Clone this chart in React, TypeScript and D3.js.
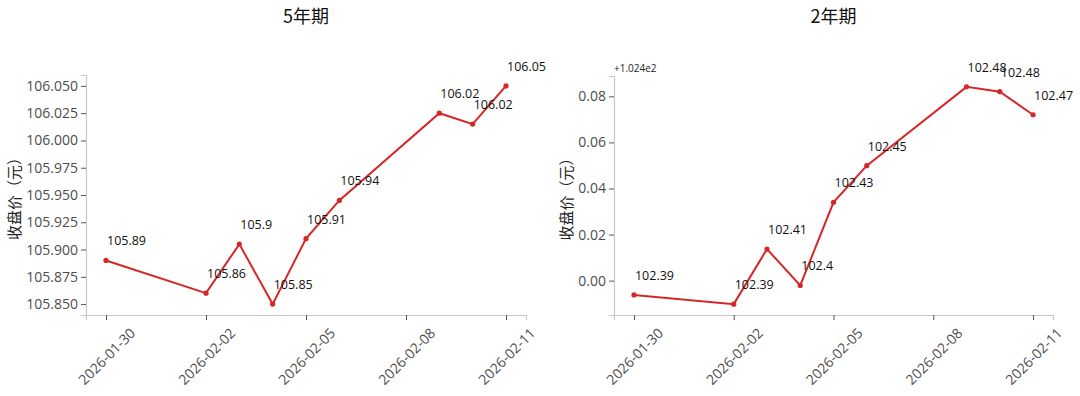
import React, { useEffect, useRef } from 'react';
import * as d3 from 'd3';

const dates = ['2026-01-30', '2026-02-02', '2026-02-03', '2026-02-04', '2026-02-05', '2026-02-06', '2026-02-09', '2026-02-10', '2026-02-11'];
const xTickDates = ['2026-01-30', '2026-02-02', '2026-02-05', '2026-02-08', '2026-02-11'];

const fiveYearValues = [105.89, 105.86, 105.905, 105.85, 105.91, 105.945, 106.025, 106.015, 106.05];
const fiveYearLabels = ['105.89', '105.86', '105.9', '105.85', '105.91', '105.94', '106.02', '106.02', '106.05'];
const fiveYearTicks = [105.85, 105.875, 105.9, 105.925, 105.95, 105.975, 106.0, 106.025, 106.05];

const twoYearValues = [102.3938, 102.3898, 102.4137, 102.3979, 102.434, 102.4499, 102.4841, 102.482, 102.472];
const twoYearLabels = ['102.39', '102.39', '102.41', '102.4', '102.43', '102.45', '102.48', '102.48', '102.47'];
const twoYearTicks = [102.4, 102.42, 102.44, 102.46, 102.48];
const twoYearOffset = 102.4;

const FONT = '"Open Sans", "Noto Sans CJK SC", sans-serif';
const CJK = '"Noto Sans CJK SC", "Open Sans", sans-serif';
const LINE = '#d62728';

const parse = d3.utcParse('%Y-%m-%d');

function drawPanel(svg, opts) {
  const { left, right, top, bottom, title, values, labels, ticks, fmt, offsetText } = opts;
  const g = svg.append('g');
  const pts = dates.map((d, i) => ({ date: parse(d), v: values[i], label: labels[i] }));

  const ext = d3.extent(pts, (p) => p.date.getTime());
  const padX = (ext[1] - ext[0]) * 0.05;
  const x = d3.scaleUtc().domain([new Date(ext[0] - padX), new Date(ext[1] + padX)]).range([left, right]);

  const vExt = d3.extent(values);
  const padY = (vExt[1] - vExt[0]) * 0.05;
  const y = d3.scaleLinear().domain([vExt[0] - padY, vExt[1] + padY]).range([bottom, top]);

  // title
  g.append('text')
    .attr('x', (left + right) / 2)
    .attr('y', 23)
    .attr('text-anchor', 'middle')
    .attr('font-size', 18)
    .attr('font-family', CJK)
    .attr('fill', '#111')
    .text(title);

  // x axis
  const xa = g.append('g')
    .attr('transform', `translate(0,${bottom})`)
    .call(d3.axisBottom(x).tickValues(xTickDates.map((d) => parse(d))).tickFormat(d3.utcFormat('%Y-%m-%d')).tickSizeOuter(0).tickSize(5).tickPadding(3));
  xa.select('.domain').attr('stroke', '#c8c8c8').attr('stroke-width', 1.2);
  xa.selectAll('.tick line').attr('stroke', '#555');
  xa.selectAll('.tick text')
    .attr('font-size', 14)
    .attr('font-family', FONT)
    .attr('fill', '#4d4d4d')
    .attr('text-anchor', 'middle')
    .attr('dy', 0)
    .attr('y', 0)
    .attr('dominant-baseline', 'central')
    .attr('transform', 'translate(0,41) rotate(-45)');

  // y axis
  const ya = g.append('g')
    .attr('transform', `translate(${left},0)`)
    .call(d3.axisLeft(y).tickValues(ticks).tickFormat(fmt).tickSizeOuter(0).tickSize(5).tickPadding(3));
  ya.select('.domain').attr('stroke', '#c8c8c8').attr('stroke-width', 1.2);
  ya.selectAll('.tick line').attr('stroke', '#555');
  ya.selectAll('.tick text')
    .attr('font-size', 14)
    .attr('font-family', FONT)
    .attr('fill', '#4d4d4d');

  const axisW = d3.max(ya.selectAll('.tick text').nodes(), (n) => n.getBBox().width) || 40;
  g.append('text')
    .attr('transform', `translate(${left - axisW - 14},${(top + bottom) / 2}) rotate(-90)`)
    .attr('text-anchor', 'middle')
    .attr('font-size', 15)
    .attr('font-family', CJK)
    .attr('fill', '#222')
    .text('收盘价（元）');

  if (offsetText) {
    g.append('text')
      .attr('x', left)
      .attr('y', top - 4)
      .attr('font-size', 10)
      .attr('font-family', FONT)
      .attr('fill', '#222')
      .text(offsetText);
  }

  const line = d3.line().x((p) => x(p.date)).y((p) => y(p.v));
  g.append('path')
    .datum(pts)
    .attr('d', line)
    .attr('fill', 'none')
    .attr('stroke', LINE)
    .attr('stroke-width', 2);

  g.selectAll('circle.pt')
    .data(pts)
    .enter()
    .append('circle')
    .attr('cx', (p) => x(p.date))
    .attr('cy', (p) => y(p.v))
    .attr('r', 2.6)
    .attr('fill', LINE);

  g.selectAll('text.lbl')
    .data(pts)
    .enter()
    .append('text')
    .attr('x', (p) => x(p.date) + 1)
    .attr('y', (p) => y(p.v) - 15)
    .attr('font-size', 12.5)
    .attr('font-family', FONT)
    .attr('fill', '#111')
    .text((p) => p.label);
}

export default function App() {
  const svgRef = useRef(null);

  useEffect(() => {
    const svg = d3.select(svgRef.current);
    svg.selectAll('*').remove();

    drawPanel(svg, {
      left: 86, right: 526, top: 75, bottom: 315,
      title: '5年期',
      values: fiveYearValues,
      labels: fiveYearLabels,
      ticks: fiveYearTicks,
      fmt: d3.format('.3f'),
    });

    drawPanel(svg, {
      left: 614, right: 1053, top: 76, bottom: 315,
      title: '2年期',
      values: twoYearValues,
      labels: twoYearLabels,
      ticks: twoYearTicks,
      fmt: (t) => d3.format('.2f')(t - twoYearOffset),
      offsetText: '+1.024e2',
    });
  }, []);

  return (
    <div style={{ position: 'absolute', left: 0, top: 0 }}>
      <svg ref={svgRef} width={1080} height={396} style={{ display: 'block', background: '#fff' }}></svg>
    </div>
  );
}
